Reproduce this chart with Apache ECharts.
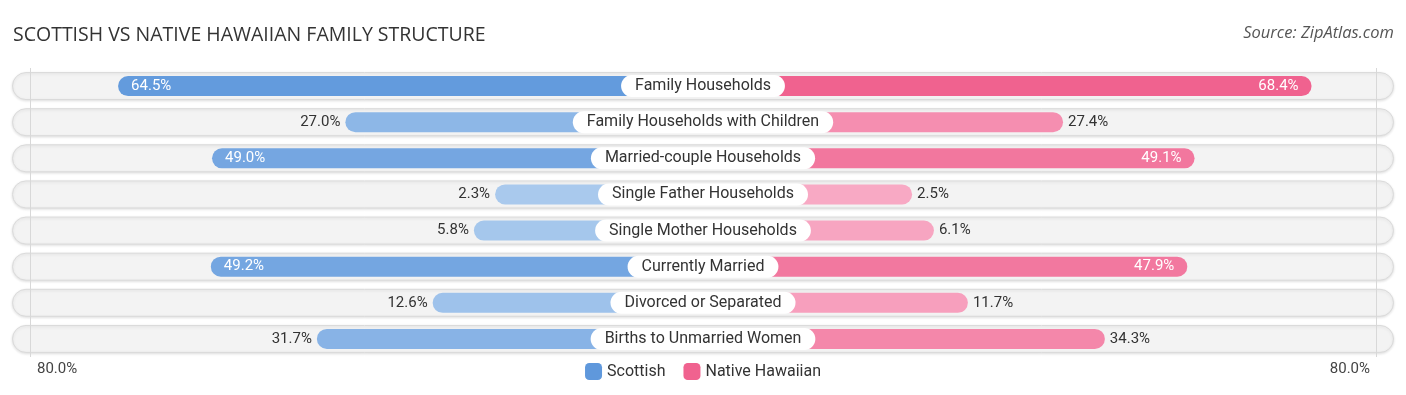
<!DOCTYPE html>
<html>
<head>
<meta charset="utf-8">
<script src="https://cdn.jsdelivr.net/npm/echarts@6/dist/echarts.min.js"></script>
<style>html,body{margin:0;padding:0;background:#fff}#c{width:1406px;height:395px}</style>
</head>
<body>
<div id="c"></div>
<script>
const categories = ['Family Households','Family Households with Children','Married-couple Households','Single Father Households','Single Mother Households','Currently Married','Divorced or Separated','Births to Unmarried Women'];
const scottish = [64.5, 27.0, 49.0, 2.3, 5.8, 49.2, 12.6, 31.7];
const nativeHawaiian = [68.4, 27.4, 49.1, 2.5, 6.1, 47.9, 11.7, 34.3];
const tickLabels = ['80.0%', '80.0%'];
const seriesNames = ['Scottish', 'Native Hawaiian'];

// layout constants (axis units)
const OFFSET = 32;     // visual offset under the centre label
const HALF = 114;      // half width of axis
const EDGE = 111;      // faint guide lines

function mix(a, b, t) {
  t = Math.max(0, Math.min(1, t));
  const r = a.map((v, i) => Math.round(v + (b[i] - v) * t));
  return 'rgb(' + r.join(',') + ')';
}
const blueLight = [172, 203, 238], blueStrong = [95, 152, 220];
const pinkLight = [248, 172, 198], pinkStrong = [240, 98, 143];

function items(vals, side) {
  return vals.map(v => {
    const inside = v > 40;
    const t = v / 68;
    return {
      value: side * (v + OFFSET),
      itemStyle: { color: side < 0 ? mix(blueLight, blueStrong, t) : mix(pinkLight, pinkStrong, t) },
      label: {
        show: true,
        position: inside ? (side < 0 ? 'insideLeft' : 'insideRight') : (side < 0 ? 'left' : 'right'),
        distance: inside ? 13 : 5,
        color: inside ? '#fff' : '#333',
        fontSize: 15,
        fontFamily: 'Roboto',
        formatter: () => v.toFixed(1) + '%'
      }
    };
  });
}

const chart = echarts.init(document.getElementById('c'), null, { renderer: 'canvas' });
chart.setOption({
  animation: false,
  title: [{
    text: 'SCOTTISH VS NATIVE HAWAIIAN FAMILY STRUCTURE',
    left: 13, top: 25, padding: 0,
    textStyle: { fontFamily: 'Open Sans', fontSize: 19.5, fontWeight: 'normal', color: '#333' }
  }, {
    text: 'Source: ZipAtlas.com',
    right: 12, top: 25, padding: 0,
    textStyle: { fontFamily: 'Open Sans', fontSize: 16.5, fontStyle: 'italic', fontWeight: 'normal', color: '#555' }
  }],
  legend: {
    data: seriesNames,
    left: 'center', top: 358,
    icon: 'roundRect', itemWidth: 17, itemHeight: 17, itemGap: 18,
    textStyle: { fontFamily: 'Roboto', fontSize: 16, color: '#333' }
  },
  graphic: [
    { type: 'text', left: 37, top: 362, style: { text: tickLabels[0], font: '15px Roboto', fill: '#444' } },
    { type: 'text', right: 36, top: 362, style: { text: tickLabels[1], font: '15px Roboto', fill: '#444' } }
  ],
  grid: { left: 12, right: 12, top: 68, height: 289 },
  xAxis: [
    { type: 'value', min: -HALF, max: HALF, show: false },
    { type: 'value', min: 0, max: 1, show: false }
  ],
  yAxis: [
    { type: 'category', data: categories, inverse: true, show: false },
    { type: 'category', data: categories, inverse: true, show: false }
  ],
  series: [
    {
      type: 'bar', xAxisIndex: 1, yAxisIndex: 1, barWidth: 28, silent: true, z: 1,
      data: categories.map(() => 1),
      itemStyle: { color: '#f3f3f3', borderColor: '#dadada', borderWidth: 1, borderRadius: 14,
        shadowColor: 'rgba(0,0,0,0.12)', shadowBlur: 3, shadowOffsetY: 1 }
    },
    {
      name: seriesNames[0], type: 'bar', stack: 'a', barWidth: 20, z: 2,
      itemStyle: { color: 'rgb(95,152,220)', borderRadius: 10 },
      data: items(scottish, -1),
      markLine: {
        silent: true, symbol: 'none', label: { show: false },
        lineStyle: { color: '#d8d8d8', width: 1, type: 'solid' },
        data: [{ xAxis: -EDGE }, { xAxis: EDGE }]
      }
    },
    {
      name: seriesNames[1], type: 'bar', stack: 'a', barWidth: 20, z: 2,
      itemStyle: { color: 'rgb(240,98,143)', borderRadius: 10 },
      data: items(nativeHawaiian, 1)
    },
    {
      type: 'scatter', symbolSize: 0.1, zlevel: 1, z: 5, silent: true,
      itemStyle: { color: '#fff', opacity: 1 },
      data: categories.map((c, i) => [0, i]),
      label: {
        show: true, position: 'inside', opacity: 1,
        formatter: p => categories[p.dataIndex],
        backgroundColor: '#ffffff', borderRadius: 12, padding: [3, 14],
        fontFamily: 'Roboto', fontSize: 16, color: '#333'
      }
    }
  ]
});
</script>
</body>
</html>
